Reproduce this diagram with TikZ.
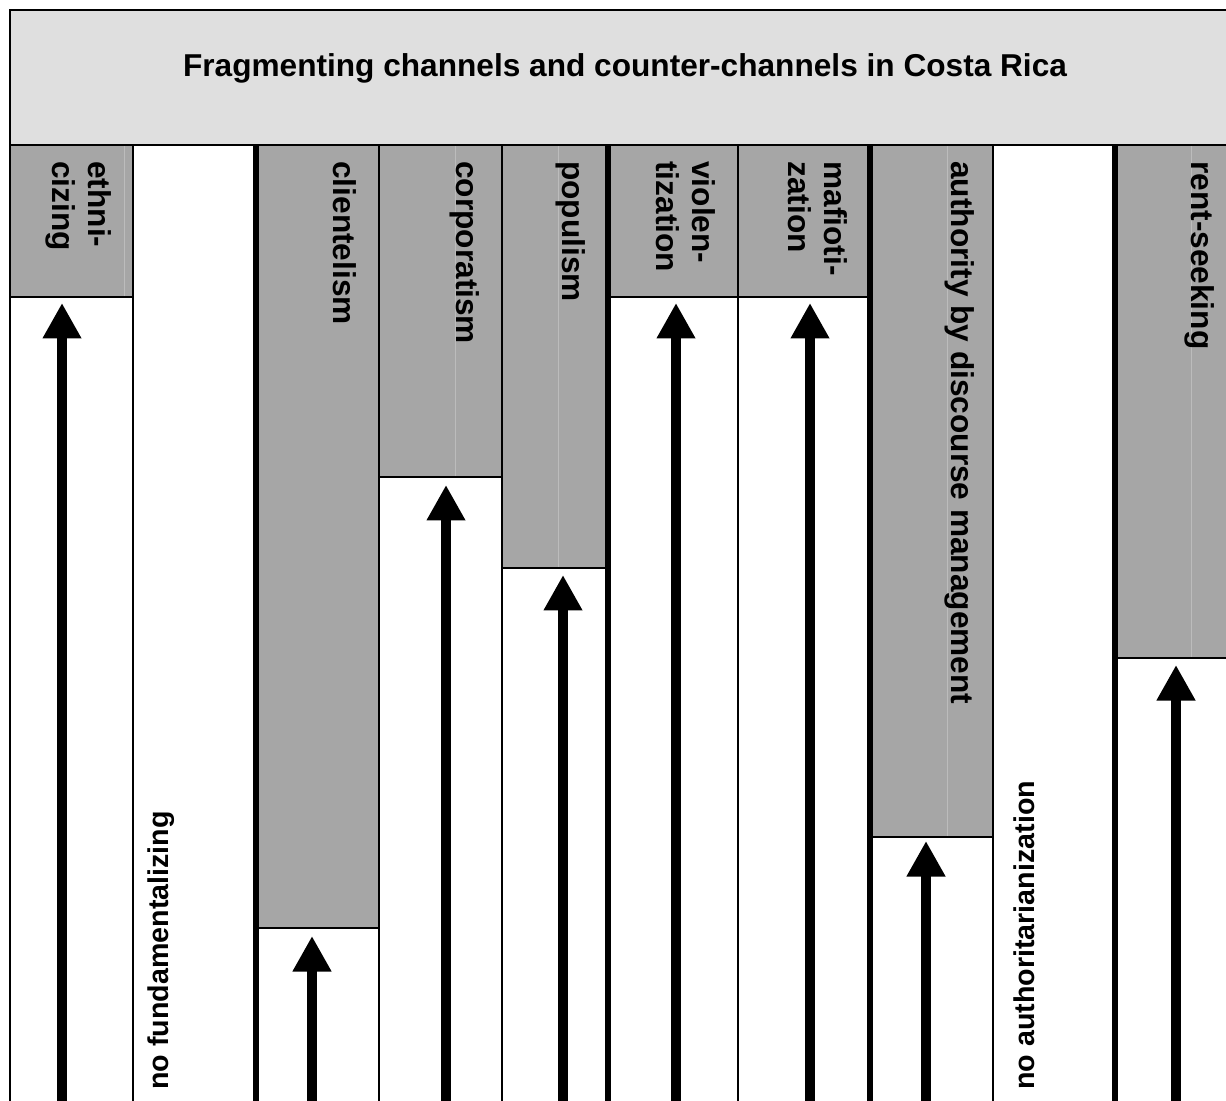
\documentclass[tikz,border=0pt]{standalone}
\usepackage{xcolor}
\usepackage{fontspec}
\setmainfont{Liberation Sans}
\usepackage{tikz}
\usetikzlibrary{positioning,arrows.meta}

\definecolor{titlegray}{RGB}{223,223,223}
\definecolor{cellgray}{RGB}{166,166,166}
\definecolor{seamgray}{RGB}{188,188,188}

\begin{document}
\begin{tikzpicture}[x=0.02cm, y=-0.02cm,
    cell/.style={fill=cellgray},
    seam/.style={draw=seamgray, line width=0.5pt},
    thinrule/.style={line width=1.1pt},
    thickrule/.style={line width=3.4pt},
    chanlabel/.style={rotate=-90, anchor=north west, inner sep=0pt, align=left,
        font=\fontsize{18}{20.7}\selectfont\bfseries},
    counterlabel/.style={rotate=90, anchor=north west, inner sep=0pt,
        font=\fontsize{16.3}{18.7}\selectfont\bfseries},
    uparrow/.style={line width=0.2cm, -{Triangle[width=0.73cm, length=0.71cm]}}]

\useasboundingbox (0,0) rectangle (1226,1101);
\clip (0,0) rectangle (1226,1101);

% title band
\fill[titlegray] (10,10) rectangle (1240,145);
\node[anchor=base, inner sep=0pt, font=\fontsize{18}{20.7}\selectfont\bfseries] (title) at (625,77)
    {Fragmenting channels and counter-channels in Costa Rica};

% grey channel cells
\fill[cell] (10,145) rectangle (133,297);
\fill[cell] (256,145) rectangle (379,928);
\fill[cell] (379,145) rectangle (502,477);
\fill[cell] (502,145) rectangle (608,568);
\fill[cell] (608,145) rectangle (738,297);
\fill[cell] (738,145) rectangle (870,297);
\fill[cell] (870,145) rectangle (993,837);
\fill[cell] (1115,145) rectangle (1240,658);

\draw[seam] (124,145) -- (124,297);
\draw[seam] (455,145) -- (455,477);
\draw[seam] (558,145) -- (558,568);
\draw[seam] (947,145) -- (947,837);
\draw[seam] (1191,145) -- (1191,658);

% frame and column rules
\draw[thinrule] (10,1101) -- (10,10) -- (1240,10);
\draw[thinrule] (10,145) -- (1240,145);
\draw[thinrule] (133,145) -- (133,1101);
\draw[thinrule] (379,145) -- (379,1101);
\draw[thinrule] (502,145) -- (502,1101);
\draw[thinrule] (738,145) -- (738,1101);
\draw[thinrule] (993,145) -- (993,1101);
\draw[thickrule] (256,145) -- (256,1101);
\draw[thickrule] (608,145) -- (608,1101);
\draw[thickrule] (870,145) -- (870,1101);
\draw[thickrule] (1115,145) -- (1115,1101);

\draw[thinrule] (10,297) -- (133,297);
\draw[thinrule] (256,928) -- (379,928);
\draw[thinrule] (379,477) -- (502,477);
\draw[thinrule] (502,568) -- (608,568);
\draw[thinrule] (608,297) -- (870,297);
\draw[thinrule] (870,837) -- (993,837);
\draw[thinrule] (1115,658) -- (1240,658);

% channel labels
\node[chanlabel] (channel_1) at (112,161) {ethni-\\cizing};
\node[chanlabel] (channel_2) at (357,161) {clientelism};
\node[chanlabel] (channel_3) at (480,161) {corporatism};
\node[chanlabel] (channel_4) at (586,161) {populism};
\node[chanlabel] (channel_5) at (716,161) {violen-\\tization};
\node[chanlabel] (channel_6) at (848,161) {mafioti-\\zation};
\node[chanlabel] (channel_7) at (975,161) {authority by discourse management};
\node[chanlabel] (channel_8) at (1215,161) {rent-seeking};

\node[counterlabel] (counter_1) at (147,1090) {no fundamentalizing};
\node[counterlabel] (counter_2) at (1013,1090) {no authoritarianization};

% counter-channel arrows
\coordinate (base_1) at (62,1115);   \coordinate (tip_1) at (62,303);
\coordinate (base_2) at (312,1115);  \coordinate (tip_2) at (312,936);
\coordinate (base_3) at (446,1115);  \coordinate (tip_3) at (446,485);
\coordinate (base_4) at (563,1115);  \coordinate (tip_4) at (563,575);
\coordinate (base_5) at (676,1115);  \coordinate (tip_5) at (676,303);
\coordinate (base_6) at (810,1115);  \coordinate (tip_6) at (810,303);
\coordinate (base_7) at (926,1115);  \coordinate (tip_7) at (926,841);
\coordinate (base_8) at (1176,1115); \coordinate (tip_8) at (1176,665);

\draw[uparrow] (base_1) -- (tip_1);
\draw[uparrow] (base_2) -- (tip_2);
\draw[uparrow] (base_3) -- (tip_3);
\draw[uparrow] (base_4) -- (tip_4);
\draw[uparrow] (base_5) -- (tip_5);
\draw[uparrow] (base_6) -- (tip_6);
\draw[uparrow] (base_7) -- (tip_7);
\draw[uparrow] (base_8) -- (tip_8);

\end{tikzpicture}
\end{document}
